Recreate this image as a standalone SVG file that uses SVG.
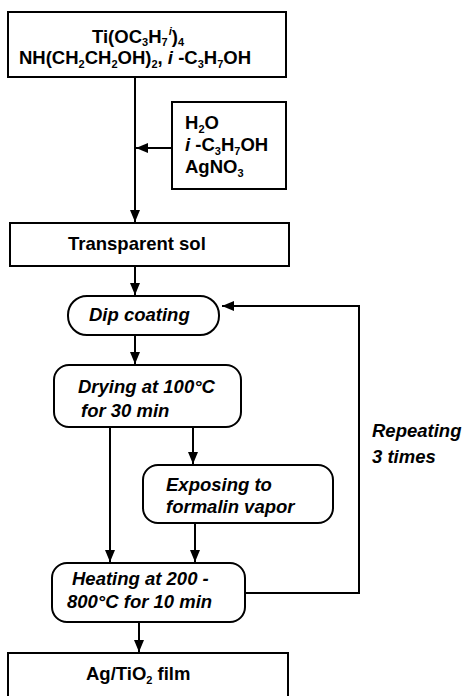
<svg xmlns="http://www.w3.org/2000/svg" width="463" height="696" viewBox="0 0 463 696">
<style>
.b{fill:#fff;stroke:#000;stroke-width:2}
.t{font-family:"Liberation Sans",Arial,sans-serif;font-weight:bold;font-size:18.5px;fill:#000}
.it{font-style:italic}
.s{font-size:11px}
.c{fill:none;stroke:#000;stroke-width:2}
</style>
<defs>
<marker id="ah" markerUnits="userSpaceOnUse" markerWidth="13" markerHeight="11" refX="12" refY="5" orient="auto">
<path d="M0,0 L12,5 L0,10 z" fill="#000"/>
</marker>
</defs>
<rect width="463" height="696" fill="#fff"/>
<g id="connectors">
<line class="c" x1="135" y1="77" x2="135" y2="222" marker-end="url(#ah)"/>
<line class="c" x1="172" y1="148" x2="136" y2="148" marker-end="url(#ah)"/>
<line class="c" x1="135" y1="266" x2="135" y2="295" marker-end="url(#ah)"/>
<line class="c" x1="135" y1="335" x2="135" y2="364" marker-end="url(#ah)"/>
<line class="c" x1="110" y1="427" x2="110" y2="562" marker-end="url(#ah)"/>
<line class="c" x1="193" y1="427" x2="193" y2="464" marker-end="url(#ah)"/>
<line class="c" x1="195" y1="523" x2="195" y2="562" marker-end="url(#ah)"/>
<line class="c" x1="139" y1="622" x2="139" y2="652" marker-end="url(#ah)"/>
<polyline class="c" points="245,593 359,593 359,306 222,306" marker-end="url(#ah)"/>
</g>
<g id="start">
<rect class="b" x="8" y="12" width="278" height="65"/>
<text class="t" x="138" y="43" text-anchor="middle">Ti(OC<tspan class="s" dy="3">3</tspan><tspan dy="-3">H</tspan><tspan class="s" dy="3">7</tspan><tspan class="s it" dy="-11" dx="1">i</tspan><tspan dy="8">)</tspan><tspan class="s" dy="3">4</tspan></text>
<text class="t" x="135" y="64" text-anchor="middle">NH(CH<tspan class="s" dy="4">2</tspan><tspan dy="-4">CH</tspan><tspan class="s" dy="4">2</tspan><tspan dy="-4">OH)</tspan><tspan class="s" dy="4">2</tspan><tspan dy="-4">, </tspan><tspan class="it">i</tspan> -C<tspan class="s" dy="4">3</tspan><tspan dy="-4">H</tspan><tspan class="s" dy="4">7</tspan><tspan dy="-4">OH</tspan></text>
</g>
<g id="additives">
<rect class="b" x="172" y="102" width="114" height="87"/>
<text class="t" x="185" y="129">H<tspan class="s" dy="4">2</tspan><tspan dy="-4">O</tspan></text>
<text class="t" x="185" y="151"><tspan class="it">i</tspan> -C<tspan class="s" dy="4">3</tspan><tspan dy="-4">H</tspan><tspan class="s" dy="4">7</tspan><tspan dy="-4">OH</tspan></text>
<text class="t" x="185" y="173">AgNO<tspan class="s" dy="4">3</tspan></text>
</g>
<g id="sol">
<rect class="b" x="10" y="223" width="279" height="43"/>
<text class="t" x="68" y="250">Transparent sol</text>
</g>
<g id="dip">
<rect class="b" x="68" y="296" width="151" height="39" rx="19" ry="19"/>
<text class="t it" x="89" y="321">Dip coating</text>
</g>
<g id="drying">
<rect class="b" x="54" y="365" width="187" height="62" rx="15" ry="15"/>
<text class="t it" x="78" y="393">Drying at 100°C</text>
<text class="t it" x="81" y="417">for 30 min</text>
</g>
<g id="exposing">
<rect class="b" x="143" y="465" width="190" height="58" rx="15" ry="15"/>
<text class="t it" x="166" y="491">Exposing to</text>
<text class="t it" x="166" y="513">formalin vapor</text>
</g>
<g id="heating">
<rect class="b" x="52" y="563" width="193" height="59" rx="15" ry="15"/>
<text class="t it" x="72" y="585">Heating at 200 -</text>
<text class="t it" x="67" y="608">800°C for 10 min</text>
</g>
<g id="repeat-label">
<text class="t it" x="372" y="437" font-size="18">Repeating</text>
<text class="t it" x="372" y="463" font-size="18">3 times</text>
</g>
<g id="film">
<rect class="b" x="8" y="653" width="280" height="60"/>
<text class="t" x="86" y="680">Ag/TiO<tspan class="s" dy="4">2</tspan><tspan dy="-4"> film</tspan></text>
</g>
</svg>
